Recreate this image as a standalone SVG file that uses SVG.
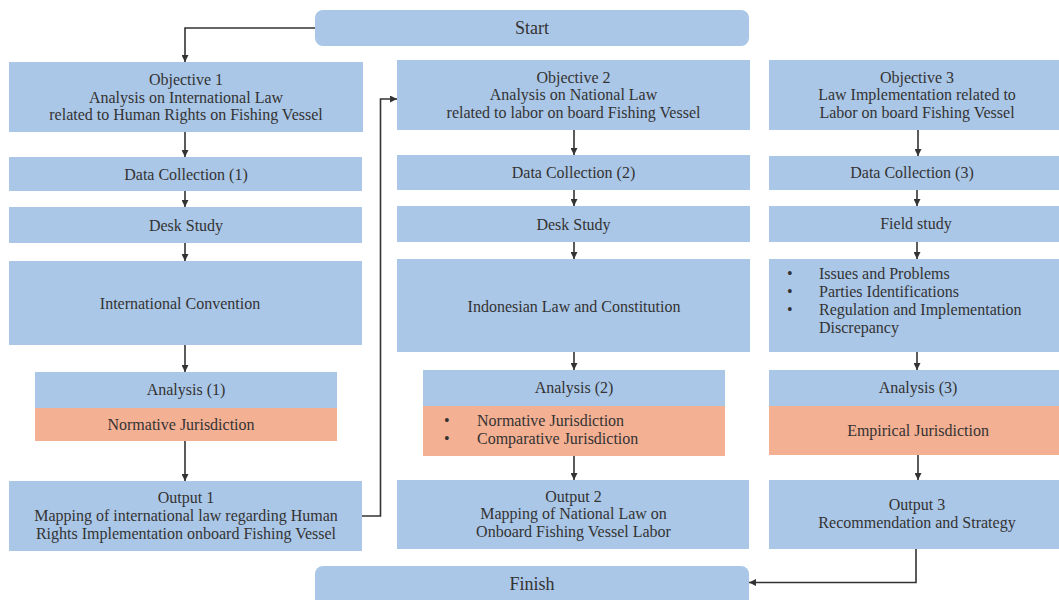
<svg xmlns="http://www.w3.org/2000/svg" width="1059" height="600" viewBox="0 0 1059 600">
<style>
.b{fill:#abc7e7}
.o{fill:#f4b093}
text{font-family:"Liberation Serif","Times New Roman",serif;font-size:16px;fill:#333;text-anchor:middle}
.l{text-anchor:start}
.big{font-size:18px}
.c{fill:none;stroke:#333;stroke-width:1.6}
</style>
<defs>
<marker id="a" viewBox="0 0 10 10" refX="10" refY="5" markerWidth="7" markerHeight="7" markerUnits="userSpaceOnUse" orient="auto"><path d="M0,0L10,5L0,10z" fill="#333"/></marker>
</defs>
<rect width="1059" height="600" fill="#fff"/>
<g id="start"><rect class="b" x="315" y="10" width="434" height="36" rx="8"/><text class="big" x="532" y="34">Start</text></g>
<g id="finish"><rect class="b" x="315" y="566" width="434" height="40" rx="8"/><text class="big" x="532" y="590">Finish</text></g>

<g id="obj1"><rect class="b" x="9" y="62" width="354" height="70"/><text x="186" y="84.5">Objective 1</text><text x="186" y="102.5">Analysis on International Law</text><text x="186" y="120">related to Human Rights on Fishing Vessel</text></g>
<g id="dc1"><rect class="b" x="9" y="157" width="353" height="34"/><text x="186" y="179.5">Data Collection (1)</text></g>
<g id="ds1"><rect class="b" x="9" y="207" width="353" height="36"/><text x="186" y="230.5">Desk Study</text></g>
<g id="ic"><rect class="b" x="9" y="261" width="353" height="84"/><text x="180" y="308.5">International Convention</text></g>
<g id="an1"><rect class="b" x="35" y="372" width="302" height="36"/><rect class="o" x="35" y="408" width="302" height="33"/><text x="186" y="395">Analysis (1)</text><text x="181" y="429.5">Normative Jurisdiction</text></g>
<g id="out1"><rect class="b" x="9" y="481" width="353" height="70"/><text x="186" y="502.5">Output 1</text><text x="186" y="521">Mapping of international law regarding Human</text><text x="186" y="539">Rights Implementation onboard Fishing Vessel</text></g>

<g id="obj2"><rect class="b" x="397" y="60" width="353" height="70"/><text x="573.5" y="82.5">Objective 2</text><text x="573.5" y="100">Analysis on National Law</text><text x="573.5" y="117.5">related to labor on board Fishing Vessel</text></g>
<g id="dc2"><rect class="b" x="397" y="155" width="353" height="35"/><text x="573.5" y="177.5">Data Collection (2)</text></g>
<g id="ds2"><rect class="b" x="397" y="206" width="353" height="36"/><text x="573.5" y="229.5">Desk Study</text></g>
<g id="il"><rect class="b" x="397" y="259" width="353" height="93"/><text x="574" y="312">Indonesian Law and Constitution</text></g>
<g id="an2"><rect class="b" x="423" y="370" width="302" height="36"/><rect class="o" x="423" y="406" width="302" height="50"/><text x="574" y="393">Analysis (2)</text><text class="l" x="444" y="426">•</text><text class="l" x="477" y="426">Normative Jurisdiction</text><text class="l" x="444" y="444">•</text><text class="l" x="477" y="444">Comparative Jurisdiction</text></g>
<g id="out2"><rect class="b" x="397" y="480" width="352" height="69"/><text x="573.5" y="501.5">Output 2</text><text x="573.5" y="519">Mapping of National Law on</text><text x="573.5" y="536.5">Onboard Fishing Vessel Labor</text></g>

<g id="obj3"><rect class="b" x="769" y="60" width="295" height="70"/><text x="917" y="82.5">Objective 3</text><text x="917" y="100">Law Implementation related to</text><text x="917" y="117.5">Labor on board Fishing Vessel</text></g>
<g id="dc3"><rect class="b" x="769" y="156" width="295" height="34"/><text x="912" y="177.5">Data Collection (3)</text></g>
<g id="fs"><rect class="b" x="769" y="206" width="295" height="36"/><text x="916" y="229">Field study</text></g>
<g id="iss"><rect class="b" x="769" y="259" width="295" height="93"/><text class="l" x="787" y="278.5">•</text><text class="l" x="819" y="278.5">Issues and Problems</text><text class="l" x="787" y="296.5">•</text><text class="l" x="819" y="296.5">Parties Identifications</text><text class="l" x="787" y="314.5">•</text><text class="l" x="819" y="314.5">Regulation and Implementation</text><text class="l" x="819" y="332.5">Discrepancy</text></g>
<g id="an3"><rect class="b" x="769" y="370" width="295" height="36"/><rect class="o" x="769" y="406" width="295" height="49"/><text x="918" y="392.5">Analysis (3)</text><text x="918" y="435.5">Empirical Jurisdiction</text></g>
<g id="out3"><rect class="b" x="769" y="480" width="295" height="69"/><text x="917" y="509.5">Output 3</text><text x="917" y="527.5">Recommendation and Strategy</text></g>

<g id="connectors" class="c" marker-end="url(#a)">
<path d="M315,28H185V62"/>
<path d="M185,132V157"/>
<path d="M185,191V207"/>
<path d="M185,243V261"/>
<path d="M185,345V372"/>
<path d="M185,441V481"/>
<path d="M362,516H380.5V99H397"/>
<path d="M574,130V155"/>
<path d="M574,190V206"/>
<path d="M574,242V259"/>
<path d="M574,352V370"/>
<path d="M574,456V480"/>
<path d="M918,130V156"/>
<path d="M917,190V206"/>
<path d="M917,242V259"/>
<path d="M917,352V370"/>
<path d="M918,455V480"/>
<path d="M916,549V582.5H749"/>
</g>
</svg>
